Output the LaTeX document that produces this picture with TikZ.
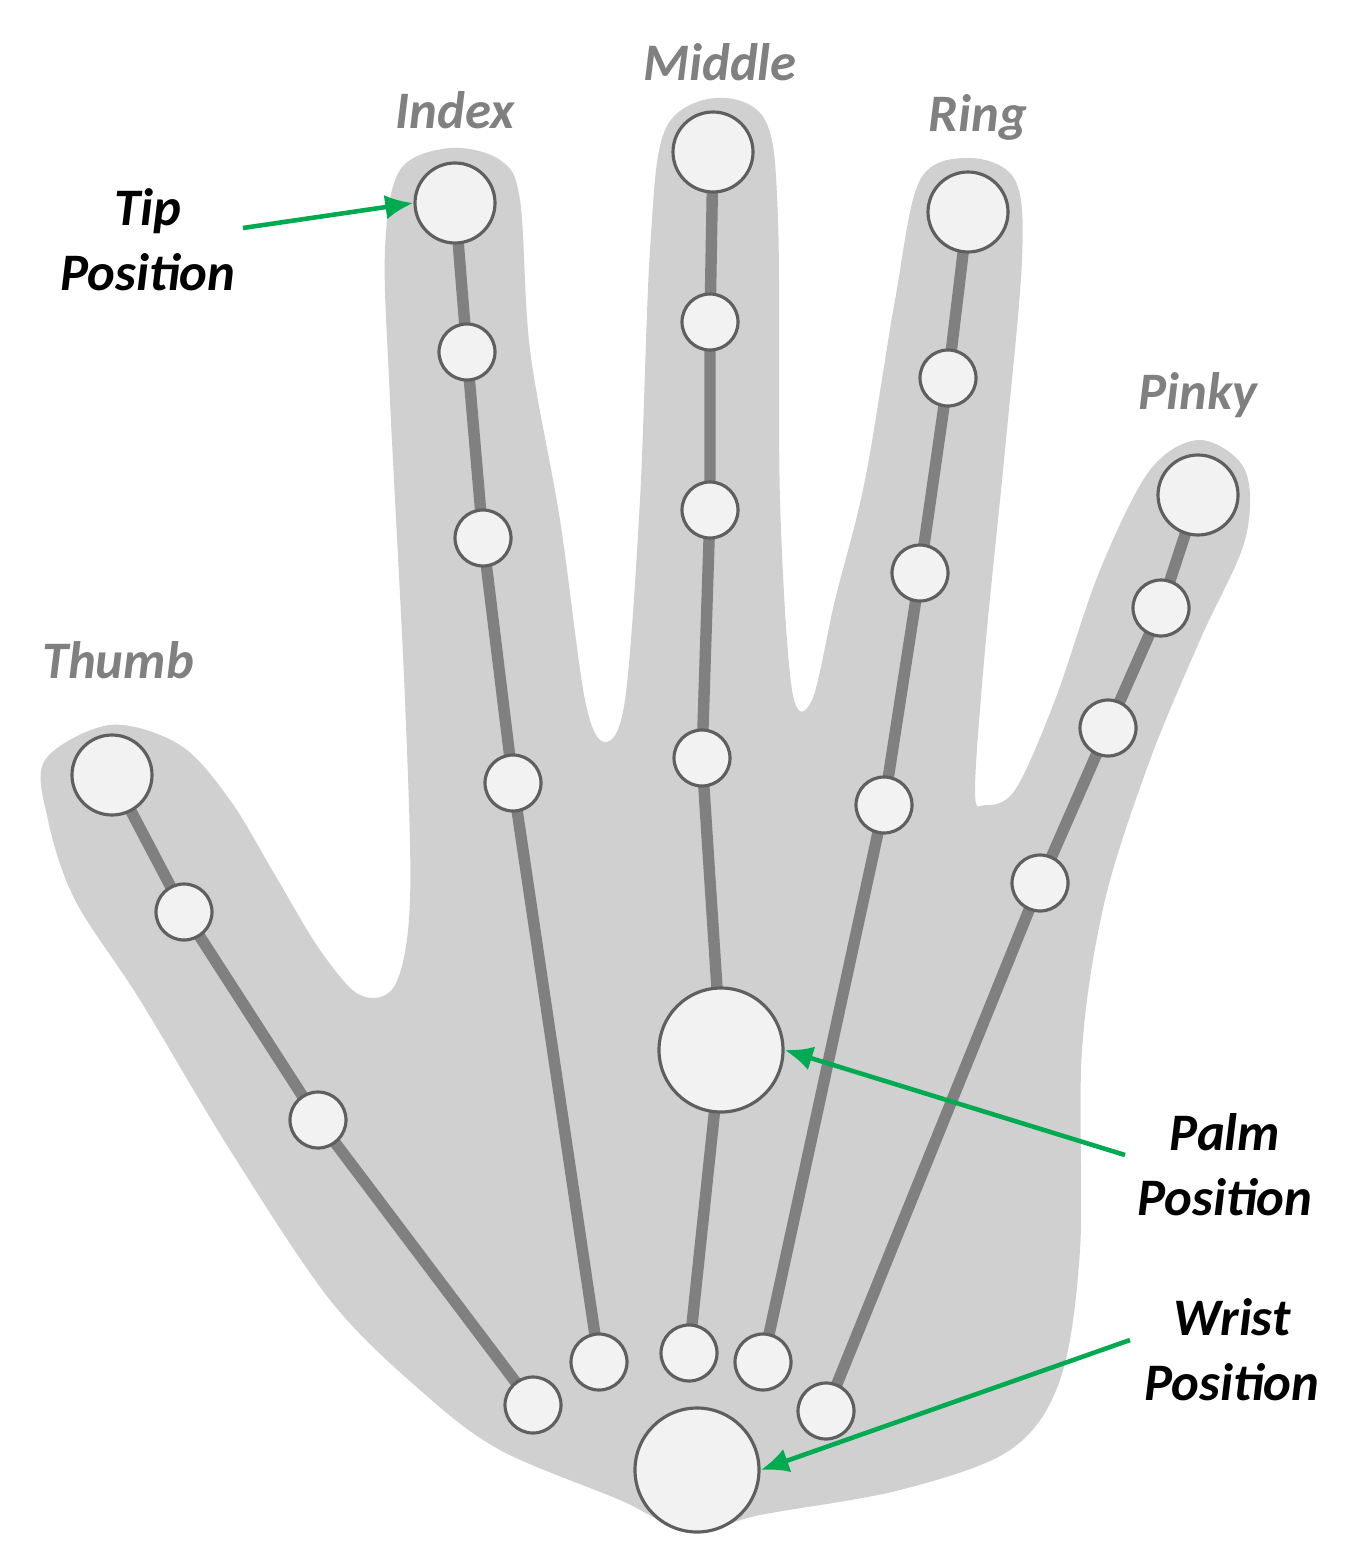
\documentclass[tikz,border=0pt]{standalone}
\usepackage{fontspec}
\setmainfont{Carlito}
\usetikzlibrary{arrows.meta}
\begin{document}
\begin{tikzpicture}[x=0.02cm,y=-0.02cm,
  bone/.style={draw=bonegray,line width=6.5pt},
  jt/.style={circle,draw=jgray,line width=1.8pt,fill=jfill,minimum size=56*0.02cm,inner sep=0pt},
  bj/.style={jt,minimum size=80*0.02cm},
  pj/.style={jt,minimum size=124*0.02cm},
  lab/.style={text=labgray,font=\fontsize{30}{33}\selectfont\bfseries\itshape},
  blab/.style={text=black,font=\fontsize{30}{37}\selectfont\bfseries\itshape,align=center},
  garr/.style={draw=arrgreen,line width=2.6pt,-{Latex[length=16pt,width=14pt]}}]
\definecolor{bonegray}{RGB}{128,128,128}
\definecolor{jgray}{RGB}{95,95,95}
\definecolor{jfill}{RGB}{242,242,242}
\definecolor{handgray}{RGB}{208,208,208}
\definecolor{labgray}{RGB}{128,128,128}
\definecolor{arrgreen}{RGB}{0,170,80}
\useasboundingbox (0,0) rectangle (1357,1557);
\fill[handgray] plot[smooth cycle,tension=0.55] coordinates{
(45,760)(110,725)(180,745)(230,800)(275,875)(320,950)(360,995)(395,985)(410,900)(405,700)(390,400)(385,250)(400,170)(450,148)(500,160)(520,200)(530,350)(560,520)(585,700)(605,742)(625,700)(640,500)(650,250)(665,130)(715,98)(765,120)(778,220)(780,500)(792,690)(812,700)(835,600)(865,480)(895,300)(920,180)(970,158)(1015,180)(1022,260)(1005,450)(985,650)(975,790)(985,805)(1015,790)(1055,700)(1100,570)(1150,470)(1200,440)(1245,470)(1245,540)(1200,640)(1150,760)(1105,900)(1082,1050)(1080,1250)(1060,1380)(1010,1450)(900,1490)(760,1515)(690,1532)(620,1500)(500,1450)(420,1390)(330,1300)(230,1150)(140,1000)(75,900)(48,820)};
% joint positions
\coordinate (t1) at (112,775); \coordinate (t2) at (184,912); \coordinate (t3) at (318,1120); \coordinate (t4) at (533,1405);
\coordinate (i1) at (455,203); \coordinate (i2) at (467,352); \coordinate (i3) at (483,538); \coordinate (i4) at (513,783); \coordinate (i5) at (599,1362);
\coordinate (m1) at (713,152); \coordinate (m2) at (710,322); \coordinate (m3) at (710,510); \coordinate (m4) at (702,758); \coordinate (pc) at (721,1050); \coordinate (m5) at (689,1353);
\coordinate (r1) at (968,212); \coordinate (r2) at (948,378); \coordinate (r3) at (920,573); \coordinate (r4) at (884,805); \coordinate (r5) at (763,1362);
\coordinate (p1) at (1198,495); \coordinate (p2) at (1161,608); \coordinate (p3) at (1108,728); \coordinate (p4) at (1040,883); \coordinate (p5) at (826,1411);
\coordinate (wc) at (697,1470);
% bones
\draw[bone] (t1)--(t2)--(t3)--(t4);
\draw[bone] (i1)--(i2)--(i3)--(i4)--(i5);
\draw[bone] (m1)--(m2)--(m3)--(m4)--(pc)--(m5);
\draw[bone] (r1)--(r2)--(r3)--(r4)--(r5);
\draw[bone] (p1)--(p2)--(p3)--(p4)--(p5);
% joints
\foreach \n in {t2,t3,t4,i2,i3,i4,i5,m2,m3,m4,m5,r2,r3,r4,r5,p2,p3,p4,p5}
  \node[jt] (J\n) at (\n){};
\foreach \n in {t1,i1,m1,r1,p1}
  \node[bj] (J\n) at (\n){};
\node[pj] (palm) at (pc){};
\node[pj] (wrist) at (wc){};
% labels
\node[lab] (lt) at (118,660){Thumb};
\node[lab] (li) at (455,110){Index};
\node[lab] (lm) at (720,62){Middle};
\node[lab] (lr) at (978,117){Ring};
\node[lab] (lp) at (1198,395){Pinky};
\node[blab] (tip) at (148,240){Tip\\Position};
\node[blab] (palml) at (1225,1165){Palm\\Position};
\node[blab] (wristl) at (1232,1350){Wrist\\Position};
\coordinate (ta) at (243,228); \coordinate (pa) at (1125,1155); \coordinate (wa) at (1130,1340);
\draw[garr] (ta) -- (Ji1.west);
\draw[garr] (pa) -- (palm.east);
\draw[garr] (wa) -- (wrist.east);
\end{tikzpicture}
\end{document}
